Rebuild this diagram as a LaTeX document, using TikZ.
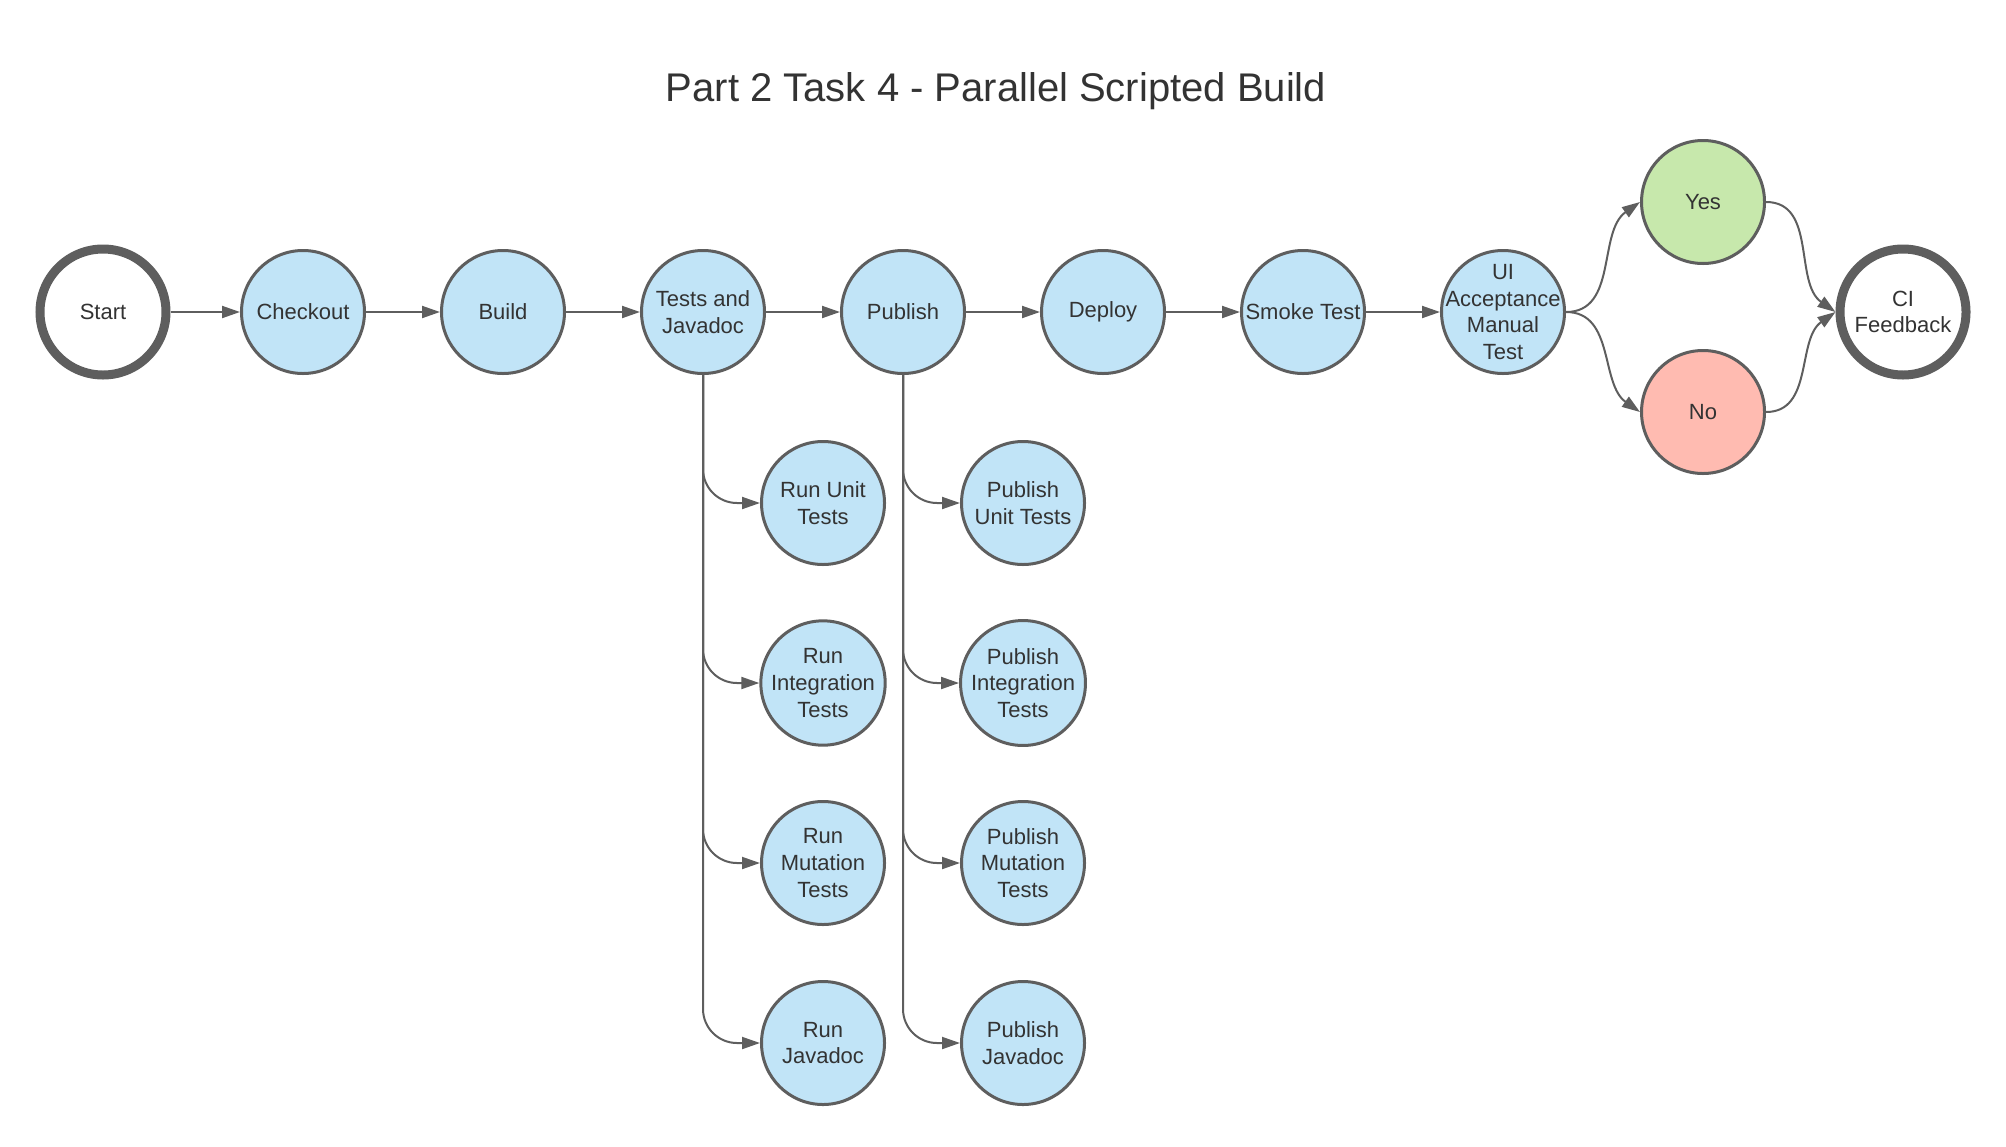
\documentclass[tikz,border=0pt]{standalone}
\usepackage{fontspec}
\setmainfont{Liberation Sans}
\usetikzlibrary{arrows.meta}
\definecolor{edge}{HTML}{5E5E5E}
\definecolor{ink}{HTML}{333333}
\definecolor{stepblue}{HTML}{C1E4F7}
\definecolor{yesgreen}{HTML}{C7E8AC}
\definecolor{nored}{HTML}{FFBBB1}
\tikzset{
  stage/.style={circle, draw=edge, line width=1.5pt, fill=stepblue, minimum size=61.5pt,
    inner sep=0pt, align=center, text=ink, font=\fontsize{11}{13.3}\selectfont},
  terminal/.style={stage, fill=white, line width=4.5pt, minimum size=63pt},
  flow/.style={draw=edge, line width=1pt, -{Triangle[length=9pt,width=6pt]}},
  branch/.style={flow, rounded corners=17pt},
}
\begin{document}
\begin{tikzpicture}[x=0.5pt,y=-0.5pt]
\useasboundingbox (0,0) rectangle (2006,1146);
\node[text=ink, font=\fontsize{20}{24}\selectfont] (title) at (996,91) {Part 2 Task 4 - Parallel Scripted Build};
% main line
\node[terminal] (start) at (103,312) {Start};
\node[stage] (checkout) at (303,312) {Checkout};
\node[stage] (build) at (503,312) {Build};
\node[stage] (tests) at (703,312) {Tests and\\Javadoc};
\node[stage] (publish) at (903,312) {Publish};
\node[stage] (deploy) at (1103,312) {Deploy};
\node[stage] (smoke) at (1303,312) {Smoke Test};
\node[stage, inner sep=-9pt] (uitest) at (1503,312) {UI\\Acceptance\\Manual\\Test};
\node[stage, fill=yesgreen] (yes) at (1703,202) {Yes};
\node[stage, fill=nored] (no) at (1703,412) {No};
\node[terminal] (feedback) at (1903,312) {CI\\Feedback};
% parallel stages
\node[stage] (rununit) at (823,503) {Run Unit\\Tests};
\node[stage] (runint) at (823,683) {Run\\Integration\\Tests};
\node[stage] (runmut) at (823,863) {Run\\Mutation\\Tests};
\node[stage] (runjd) at (823,1043) {Run\\Javadoc};
\node[stage] (pubunit) at (1023,503) {Publish\\Unit Tests};
\node[stage] (pubint) at (1023,683) {Publish\\Integration\\Tests};
\node[stage] (pubmut) at (1023,863) {Publish\\Mutation\\Tests};
\node[stage] (pubjd) at (1023,1043) {Publish\\Javadoc};
% connectors
\draw[flow] (start) -- (checkout);
\draw[flow] (checkout) -- (build);
\draw[flow] (build) -- (tests);
\draw[flow] (tests) -- (publish);
\draw[flow] (publish) -- (deploy);
\draw[flow] (deploy) -- (smoke);
\draw[flow] (smoke) -- (uitest);
\draw[flow] (uitest.east) to[out=0,in=215] (yes.west);
\draw[flow] (uitest.east) to[out=0,in=145] (no.west);
\draw[flow] (yes.east) to[out=0,in=145] (feedback.west);
\draw[flow] (no.east) to[out=0,in=215] (feedback.west);
\draw[branch] (tests.south) |- (rununit.west);
\draw[branch] (tests.south) |- (runint.west);
\draw[branch] (tests.south) |- (runmut.west);
\draw[branch] (tests.south) |- (runjd.west);
\draw[branch] (publish.south) |- (pubunit.west);
\draw[branch] (publish.south) |- (pubint.west);
\draw[branch] (publish.south) |- (pubmut.west);
\draw[branch] (publish.south) |- (pubjd.west);
\end{tikzpicture}
\end{document}
